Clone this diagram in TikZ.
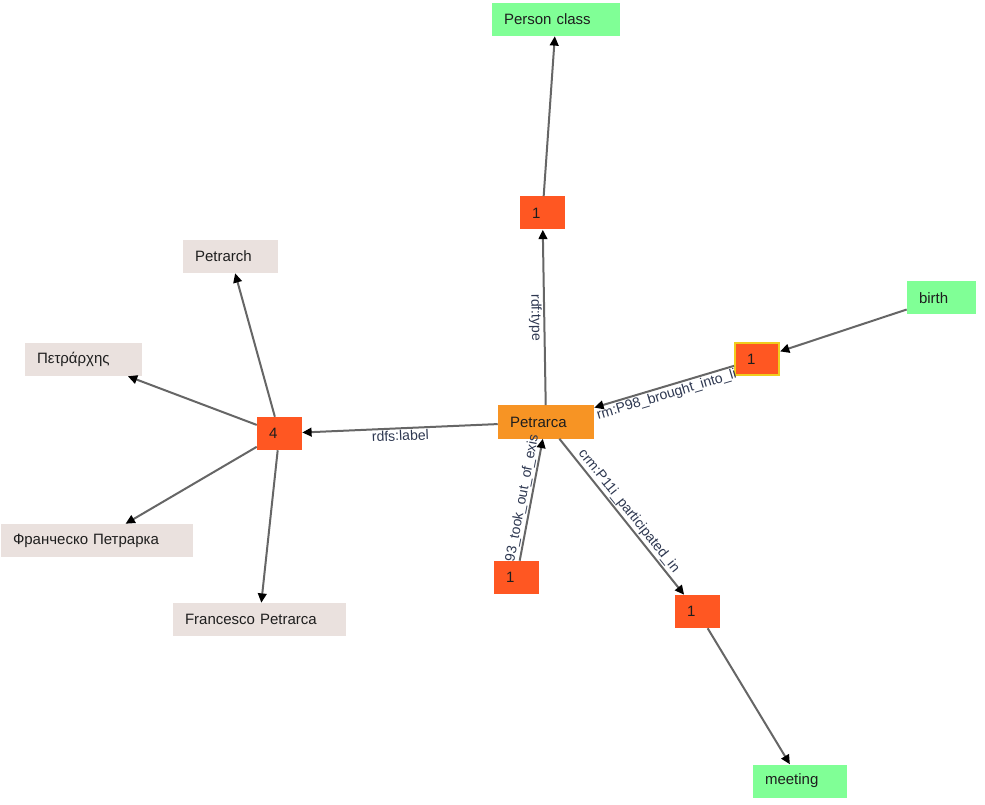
\documentclass[tikz,border=0pt]{standalone}
\usepackage{fontspec}
\setmainfont{Liberation Sans}
\usetikzlibrary{arrows.meta}
\definecolor{redn}{RGB}{255,87,34}
\definecolor{orn}{RGB}{247,148,36}
\definecolor{grn}{RGB}{128,255,150}
\definecolor{bge}{RGB}{234,225,222}
\definecolor{edg}{RGB}{102,102,102}
\definecolor{ylw}{RGB}{240,205,30}
\definecolor{lbl}{RGB}{45,55,80}
\definecolor{txt}{RGB}{30,30,30}
\begin{document}
\begin{tikzpicture}[x=0.75pt,y=-0.75pt,
  nd/.style={text width=#1, align=left, inner xsep=9pt, inner ysep=0pt,
    minimum height=24.75pt, font=\fontsize{11.25}{13}\selectfont, text=txt},
  lit/.style={nd=#1, fill=bge},
  cls/.style={nd=#1, fill=grn},
  num/.style={nd=15.75pt, fill=redn},
  ent/.style={nd=54pt, fill=orn},
  arr/.style={draw=edg, line width=1.5pt,
    -{Triangle[length=7pt,width=6.5pt,color=black]}},
  elab/.style={font=\fontsize{10.5}{12}\selectfont, text=lbl, sloped, inner sep=1pt}
]
\useasboundingbox (0,0) rectangle (985,805);

% nodes
\node[cls=78pt]     (person)   at (556,19.5)  {Person class};
\node[num]          (t1)       at (542.5,213) {1};
\node[lit=53.25pt]  (petrarch) at (230.5,256.5) {Petrarch};
\node[lit=69.75pt]  (greek)    at (83.5,359.5) {Πετράρχης};
\node[num]          (four)     at (279.5,433.5) {4};
\node[lit=126pt]    (rus)      at (97,540.5)  {Франческо Петрарка};
\node[lit=111.75pt] (fp)       at (259.5,619.5) {Francesco Petrarca};
\node[ent]          (p)        at (546,422)   {Petrarca};
\node[cls=33.75pt]  (birth)    at (941.5,298) {birth};
\node[num, text width=15pt, draw=ylw, line width=1.5pt, minimum height=24pt] (b1) at (757,359) {1};
\node[num]          (tk)       at (516.5,577.5) {1};
\node[num]          (pt)       at (697.5,611.5) {1};
\node[cls=52.5pt]   (meeting)  at (800,781)   {meeting};

% edges
\draw[arr] (p) -- node[elab,below,midway]{rdf:type} (t1);
\draw[arr] (t1) -- (person);
\draw[arr] (p) -- node[elab,below,midway]{rdfs:label} (four);
\draw[arr] (four) -- (petrarch);
\draw[arr] (four) -- (greek);
\draw[arr] (four) -- (rus);
\draw[arr] (four) -- (fp);
\draw[arr] (birth) -- (b1);
\draw[arr] (b1) -- node[elab,below,midway]{rm:P98\_brought\_into\_li} (p);
\draw[arr] (tk) -- node[elab,above,midway]{93\_took\_out\_of\_exis} (p);
\draw[arr] (p) -- node[elab,above,midway]{crm:P11i\_participated\_in} (pt);
\draw[arr] (pt) -- (meeting);
\end{tikzpicture}
\end{document}
